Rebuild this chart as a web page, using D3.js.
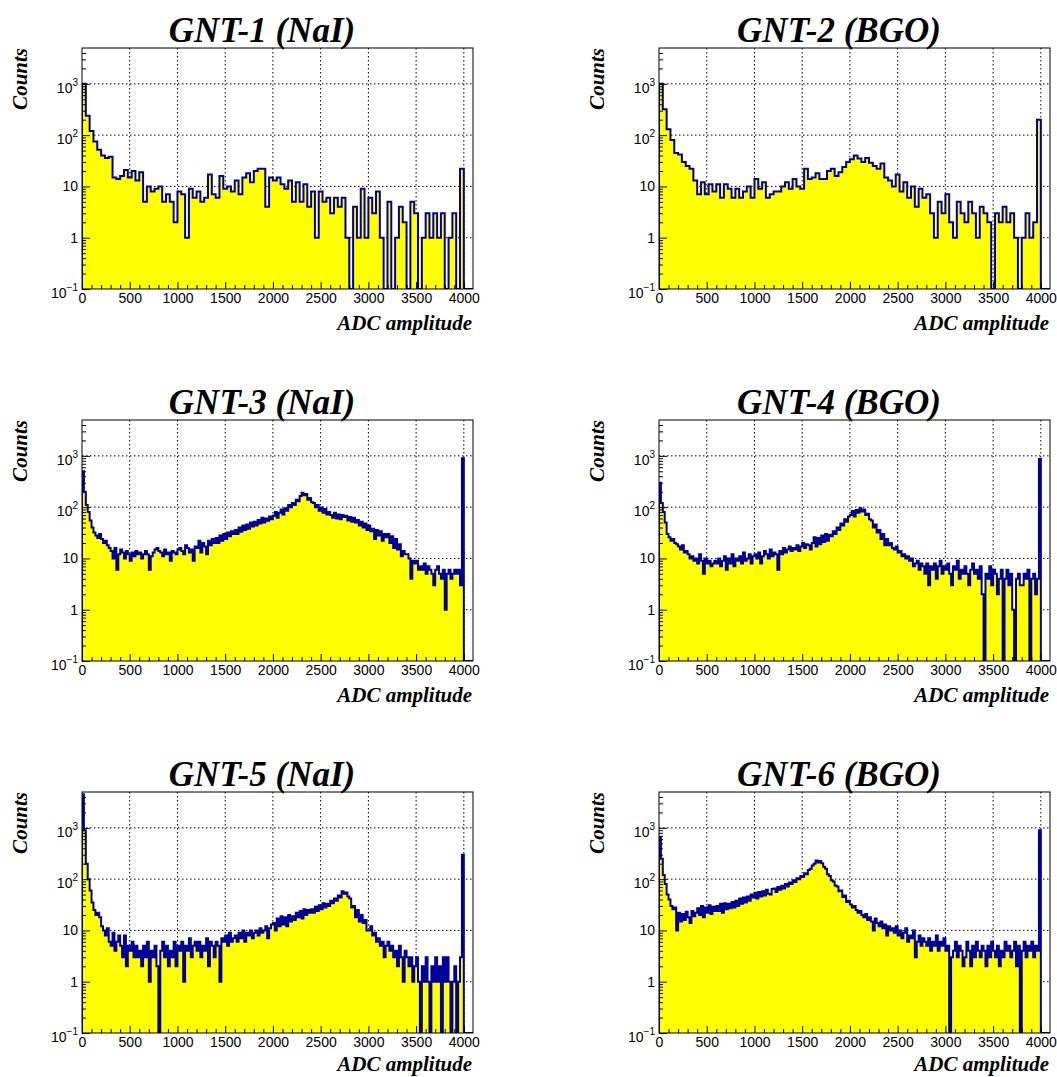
<!DOCTYPE html>
<html>
<head>
<meta charset="utf-8">
<script src="https://cdn.jsdelivr.net/npm/d3@7/dist/d3.min.js"></script>
<style>
  body { margin: 0; background: #fff; }
  svg { display: block; }
  .title { font-family: "Liberation Serif", "Times New Roman", serif; font-weight: bold; font-style: italic; font-size: 35px; }
  .axis-title { font-family: "Liberation Serif", "Times New Roman", serif; font-weight: bold; font-style: italic; font-size: 21px; }
  .tick text, .ylab { font-family: "Liberation Sans", Arial, sans-serif; font-size: 14px; fill: #000; }
</style>
</head>
<body>
<svg width="1057" height="1077"></svg>
<script>
// panel titles and bin widths (ADC channels per bin)
var titles = ["GNT-1 (NaI)", "GNT-2 (BGO)", "GNT-3 (NaI)", "GNT-4 (BGO)", "GNT-5 (NaI)", "GNT-6 (BGO)"];
var binWidths = [40, 40, 20, 20, 20, 20];

// counts per bin
var gnt1 = [
  1000, 240, 120, 75, 52, 40, 36, 38, 15, 14,
  16, 21, 15, 20, 13, 19, 5, 10, 8, 9,
  10, 5, 7, 5, 2, 8, 7, 1, 9, 6,
  8, 5, 6, 17, 7, 6, 16, 9, 10, 8,
  13, 7, 15, 18, 12, 20, 22, 22, 4, 15,
  13, 15, 11, 9, 13, 5, 12, 5, 11, 4,
  8, 1, 8, 5, 6, 3, 6, 4, 6, 1,
  0, 4, 1, 9, 1, 6, 3, 8, 1, 0,
  5, 0, 1, 4, 2, 0, 5, 3, 0, 1,
  3, 1, 3, 1, 3, 0, 1, 3, 0, 22
];
var gnt2 = [
  1000, 320, 130, 80, 45, 42, 30, 25, 22, 13,
  7, 12, 7, 11, 8, 11, 6, 11, 9, 6,
  9, 6, 8, 10, 6, 14, 9, 12, 6, 7,
  8, 8, 10, 12, 9, 14, 10, 9, 22, 14,
  15, 18, 14, 14, 20, 22, 16, 19, 24, 30,
  34, 40, 35, 30, 36, 29, 25, 22, 28, 15,
  13, 10, 17, 8, 12, 6, 10, 4, 9, 6,
  7, 3, 1, 5, 3, 7, 2, 1, 5, 3,
  2, 5, 3, 1, 4, 3, 2, 0, 3, 2,
  4, 2, 3, 1, 0, 1, 3, 1, 2, 200
];
var gnt3 = [
  500, 200, 110, 80, 55, 40, 32, 28, 25, 30,
  24, 20, 22, 18, 16, 14, 10, 16, 6, 12,
  15, 13, 10, 14, 12, 9, 13, 11, 14, 12,
  13, 10, 12, 14, 12, 6, 11, 13, 15, 16,
  14, 13, 11, 15, 12, 13, 9, 14, 13, 12,
  15, 16, 14, 12, 18, 16, 13, 15, 9, 17,
  16, 22, 13, 20, 17, 12, 22, 18, 24, 20,
  25, 20, 28, 22, 30, 24, 32, 27, 34, 30,
  36, 30, 40, 33, 44, 36, 46, 38, 50, 42,
  52, 44, 56, 48, 62, 50, 60, 54, 66, 58,
  68, 80, 62, 78, 90, 72, 95, 85, 110, 100,
  120, 110, 140, 130, 165, 190, 170, 180, 140, 150,
  125, 120, 100, 110, 85, 98, 78, 92, 72, 80,
  70, 62, 78, 60, 72, 58, 70, 64, 68, 55,
  64, 52, 62, 50, 56, 44, 52, 40, 48, 36,
  44, 34, 38, 24, 36, 28, 34, 22, 30, 26,
  30, 20, 27, 16, 24, 15, 19, 11, 14, 12,
  12, 10, 4, 9, 8, 9, 6, 7, 6, 8,
  5, 7, 6, 5, 3, 6, 7, 5, 4, 6,
  1, 5, 6, 4, 5, 6, 5, 6, 3, 900
];
var gnt4 = [
  300, 120, 80, 50, 30, 26, 22, 24, 20, 19,
  17, 15, 18, 13, 14, 12, 10, 11, 9, 10,
  8, 12, 9, 5, 10, 8, 9, 7, 8, 9,
  8, 10, 7, 9, 11, 6, 10, 8, 12, 7,
  10, 9, 11, 8, 13, 9, 10, 12, 8, 11,
  12, 10, 13, 8, 11, 14, 12, 10, 15, 11,
  13, 12, 6, 14, 12, 16, 13, 15, 17, 14,
  16, 15, 18, 14, 17, 20, 16, 19, 18, 15,
  20, 26, 17, 25, 19, 28, 21, 30, 22, 29,
  27, 34, 30, 40, 36, 48, 44, 58, 52, 66,
  70, 84, 66, 88, 78, 95, 82, 90, 70, 74,
  58, 55, 40, 46, 32, 36, 24, 30, 18, 24,
  18, 20, 16, 15, 17, 13, 14, 11, 12, 10,
  11, 9, 10, 7, 8, 9, 6, 8, 7, 5,
  8, 3, 7, 6, 8, 4, 7, 9, 5, 7,
  6, 8, 5, 3, 7, 6, 9, 4, 6, 5,
  7, 5, 3, 6, 8, 5, 6, 4, 7, 2,
  0, 5, 4, 7, 3, 6, 5, 2, 4, 6,
  0, 4, 6, 3, 5, 1, 0, 4, 5, 3,
  3, 5, 4, 6, 0, 4, 5, 2, 4, 870
];
var gnt5 = [
  4500, 900, 200, 100, 60, 35, 25, 20, 22, 18,
  12, 10, 8, 11, 6, 5, 9, 4, 6, 8,
  5, 3, 8, 2, 5, 4, 6, 3, 5, 3,
  4, 2, 5, 3, 6, 1, 4, 3, 5, 2,
  0, 4, 6, 3, 5, 2, 4, 3, 6, 2,
  5, 4, 6, 1, 5, 4, 7, 3, 5, 6,
  4, 6, 3, 5, 4, 7, 2, 6, 5, 3,
  6, 5, 1, 7, 6, 8, 5, 9, 6, 7,
  8, 6, 9, 7, 10, 6, 9, 8, 10, 7,
  9, 10, 8, 11, 9, 10, 12, 7, 11, 13,
  14, 10, 17, 12, 19, 13, 18, 12, 20, 15,
  19, 16, 22, 18, 24, 17, 26, 20, 25, 22,
  26, 22, 29, 24, 31, 26, 34, 28, 33, 30,
  38, 34, 42, 38, 48, 44, 58, 52, 55, 46,
  42, 28, 30, 18, 25, 15, 20, 14, 16, 10,
  10, 12, 8, 9, 6, 7, 5, 6, 3, 5,
  6, 4, 5, 3, 4, 2, 5, 3, 1, 4,
  3, 2, 3, 1, 2, 3, 1, 0, 2, 1,
  3, 1, 0, 2, 1, 3, 1, 2, 0, 3,
  1, 3, 1, 0, 1, 2, 0, 1, 3, 300
];
var gnt6 = [
  650, 250, 120, 80, 50, 40, 30, 26, 28, 10,
  22, 15, 21, 16, 23, 18, 14, 24, 19, 22,
  27, 20, 30, 18, 28, 22, 31, 21, 29, 24,
  30, 24, 33, 22, 34, 26, 33, 27, 36, 28,
  38, 30, 42, 33, 44, 35, 46, 38, 50, 44,
  54, 42, 56, 46, 58, 48, 62, 52, 50, 64,
  66, 56, 70, 62, 74, 66, 80, 72, 86, 80,
  95, 88, 104, 100, 115, 110, 130, 125, 150, 160,
  185, 200, 230, 210, 225, 205, 175, 160, 125, 115,
  95, 90, 75, 72, 58, 60, 45, 48, 36, 38,
  32, 28, 30, 25, 22, 24, 20, 18, 21, 16,
  18, 15, 10, 17, 14, 12, 15, 11, 13, 8,
  12, 10, 11, 9, 12, 8, 10, 7, 9, 11,
  6, 8, 7, 10, 3, 6, 8, 5, 7, 6,
  5, 7, 4, 6, 5, 8, 4, 6, 5, 7,
  4, 5, 0, 3, 4, 6, 3, 5, 4, 2,
  3, 6, 4, 2, 5, 3, 6, 4, 3, 5,
  4, 2, 5, 3, 6, 4, 3, 5, 2, 4,
  3, 6, 4, 5, 3, 4, 6, 2, 5, 0,
  4, 6, 3, 5, 4, 6, 3, 5, 4, 900
];
var series = [gnt1, gnt2, gnt3, gnt4, gnt5, gnt6];

// axis ticks and labels
var xTicks = [0, 500, 1000, 1500, 2000, 2500, 3000, 3500, 4000];
var yDecades = [0.1, 1, 10, 100, 1000];
var yLabelBase = ["10", "1", "10", "10", "10"];
var yLabelExp = ["\u22121", "", "", "2", "3"];

var svg = d3.select("svg");
var plotW = 391, plotH = 241;
var colLeft = [82, 659];
var rowTop = [48, 420, 792];
var xMax = 4096, yMin = 0.1, yMax = 5000;

var x = d3.scaleLinear().domain([0, xMax]).range([0, plotW]);
var y = d3.scaleLog().domain([yMin, yMax]).range([plotH, 0]).clamp(true);

var xMinor = d3.range(100, 4096, 100).filter(function(v) { return v % 500 !== 0; });
var yMinor = [];
yDecades.forEach(function(d) {
  for (var k = 2; k <= 9; k++) if (k * d < yMax) yMinor.push(k * d);
});

//step outline of a histogram, zero bins fall to the floor
function histPoints(vals, bw) {
  var pts = [[x(0), y(yMin)]];
  vals.forEach(function(v, j) {
    var yy = y(Math.max(v, yMin));
    pts.push([x(j * bw), yy]);
    pts.push([x((j + 1) * bw), yy]);
  });
  pts.push([x(vals.length * bw), y(yMin)]);
  pts.push([x(xMax), y(yMin)]);
  return pts;
}

series.forEach(function(vals, i) {
  var g = svg.append("g")
      .attr("transform", "translate(" + colLeft[i % 2] + "," + rowTop[Math.floor(i / 2)] + ")");

  g.append("clipPath").attr("id", "clip" + i)
    .append("rect").attr("width", plotW).attr("height", plotH);

  //grid
  var grid = g.append("g").attr("stroke", "#000").attr("stroke-width", 1)
      .attr("stroke-dasharray", "1.5,2.5");
  grid.selectAll("line.gx").data(xTicks.slice(1)).enter().append("line")
      .attr("x1", function(d) { return x(d); }).attr("x2", function(d) { return x(d); })
      .attr("y1", 0).attr("y2", plotH);
  grid.selectAll("line.gy").data(yDecades.slice(1)).enter().append("line")
      .attr("y1", function(d) { return y(d); }).attr("y2", function(d) { return y(d); })
      .attr("x1", 0).attr("x2", plotW);

  //histogram
  var pts = histPoints(vals, binWidths[i]);
  var line = d3.line();
  var hg = g.append("g").attr("clip-path", "url(#clip" + i + ")");
  hg.append("path").attr("d", line(pts) + "Z").attr("fill", "#ffff00").attr("stroke", "none");
  hg.append("path").attr("d", line(pts)).attr("fill", "none")
      .attr("stroke", "#000099").attr("stroke-width", 2).attr("stroke-linejoin", "miter");

  //frame
  g.append("rect").attr("width", plotW).attr("height", plotH)
      .attr("fill", "none").attr("stroke", "#000").attr("stroke-width", 1);

  //x axis ticks pointing inward
  var xa = g.append("g").attr("transform", "translate(0," + plotH + ")");
  xa.call(d3.axisBottom(x).tickValues(xTicks).tickSize(-7).tickPadding(4.5).tickFormat(d3.format("d")));
  xa.append("g").call(d3.axisBottom(x).tickValues(xMinor).tickSize(-4).tickFormat(""));
  xa.selectAll(".domain").remove();

  //y axis ticks pointing inward
  var ya = g.append("g");
  ya.call(d3.axisLeft(y).tickValues(yDecades).tickSize(-8).tickFormat(""));
  ya.append("g").call(d3.axisLeft(y).tickValues(yMinor).tickSize(-4).tickFormat(""));
  ya.selectAll(".domain").remove();

  var ylab = g.selectAll("text.ylab").data(yDecades).enter().append("text")
      .attr("class", "ylab")
      .attr("text-anchor", "end")
      .attr("x", -4)
      .attr("y", function(d, k) { return y(d) + (yLabelExp[k] ? 9 : 5); });
  ylab.append("tspan").text(function(d, k) { return yLabelBase[k]; });
  ylab.append("tspan").attr("font-size", 10).attr("dy", -7)
      .text(function(d, k) { return yLabelExp[k]; });

  //titles
  g.append("text").attr("class", "title")
      .attr("x", 180).attr("y", -6).attr("text-anchor", "middle")
      .text(titles[i]);
  g.append("text").attr("class", "axis-title")
      .attr("text-anchor", "end")
      .attr("transform", "translate(-55,0) rotate(-90)")
      .text("Counts");
  g.append("text").attr("class", "axis-title")
      .attr("text-anchor", "end")
      .attr("x", plotW - 1).attr("y", Math.min(plotH + 41, 1071 - rowTop[Math.floor(i / 2)]))
      .text("ADC amplitude");
});
</script>
</body>
</html>
